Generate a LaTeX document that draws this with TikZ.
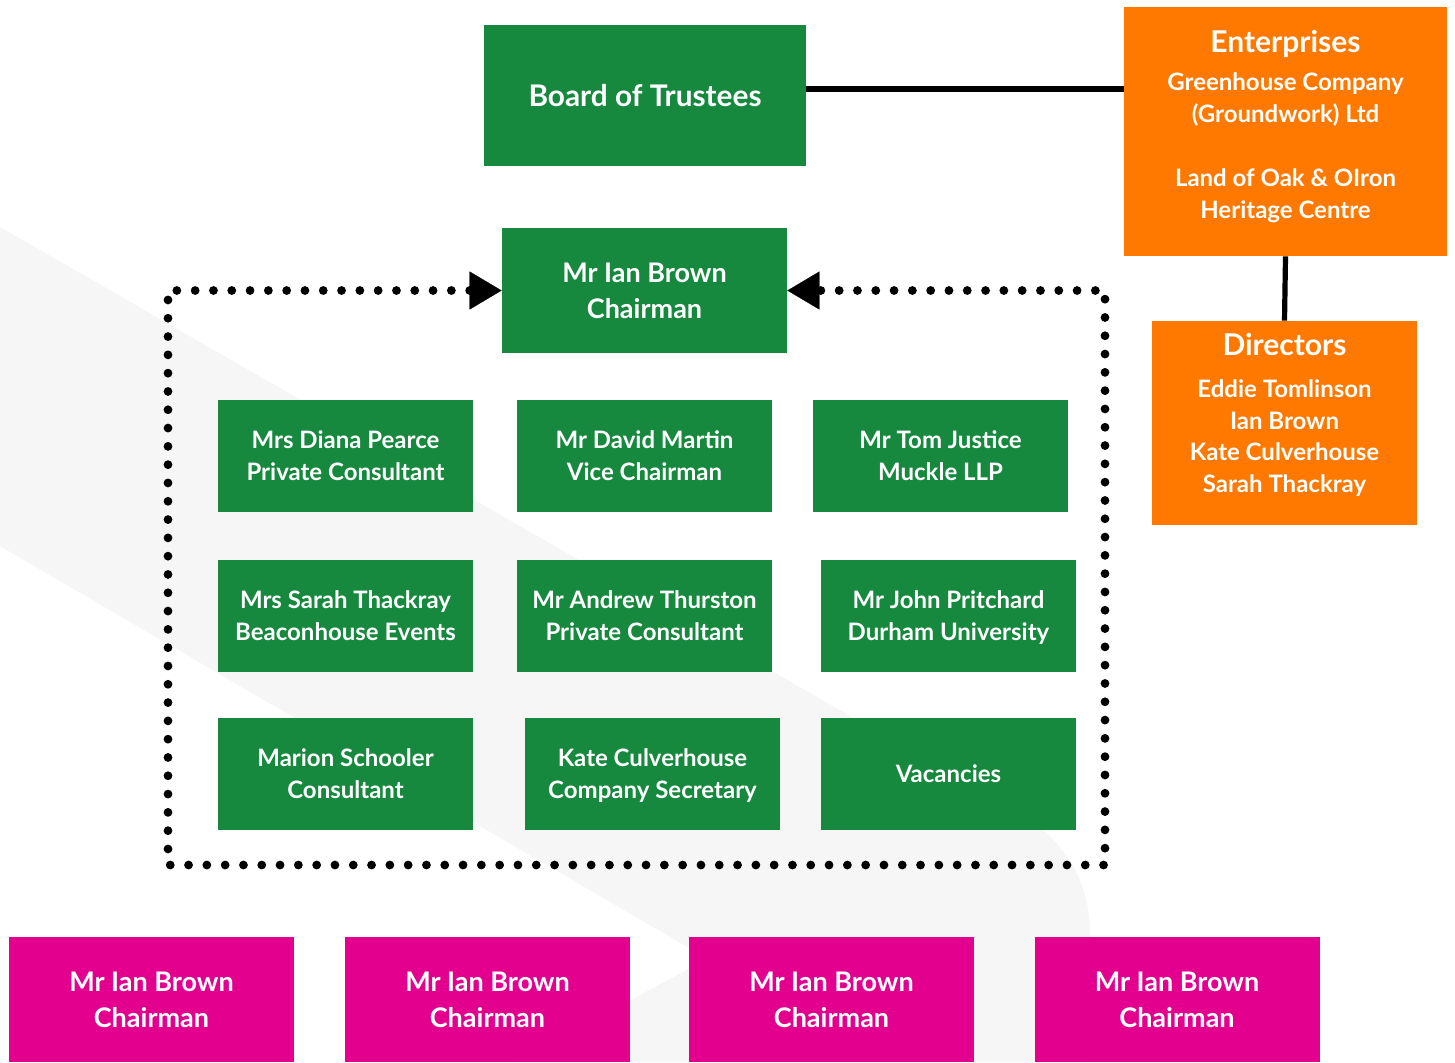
\documentclass[tikz,border=0pt]{standalone}
\usepackage{fontspec}
\setmainfont{Lato}
\usetikzlibrary{arrows.meta}
\definecolor{tgreen}{RGB}{22,137,62}
\definecolor{torange}{RGB}{255,121,0}
\definecolor{tpink}{RGB}{227,0,143}
\definecolor{tgrey}{RGB}{246,246,246}
\tikzset{framearrow/.tip={Triangle[length=16pt, width=19pt, line width=0.1pt]}}
\begin{document}
\begin{tikzpicture}[x=0.5pt,y=-0.5pt,
  box/.style={rectangle, inner sep=0pt, align=center, text=white,
    font=\bfseries\fontsize{12}{16}\selectfont},
  sbox/.style={box, text depth=0pt},
  gbox/.style={sbox, fill=tgreen, minimum width=127.5pt, minimum height=56pt},
  bigbox/.style={sbox, minimum width=142.5pt, minimum height=62.5pt,
    font=\bfseries\fontsize{13.5}{18}\selectfont},
  pbox/.style={bigbox, fill=tpink},
  conn/.style={draw=black, line width=2.6pt},
  dotline/.style={draw=black, line width=4.4pt, line cap=round,
    dash pattern=on 0pt off 9.15pt}
]
\useasboundingbox (0,0) rectangle (1455,1062);
\fill[white] (0,0) rectangle (1455,1062);
% background band
\fill[tgrey] (0,227) -- (857,720) .. controls (1000,795) and (1090,830) .. (1090,935)
  -- (1090,1062) -- (513,1062) -- (708,959) -- (0,546) -- cycle;

% top
\node[box, fill=tgreen, minimum width=161pt, minimum height=70.5pt,
  font=\bfseries\fontsize{14.9}{18}\selectfont] (board) at (645,95.5) {Board of Trustees};
\node[box, fill=torange, minimum width=161.5pt, minimum height=124.5pt] (ent) at (1285.5,131.5) {};
\node[box] (entT) at (1285.5,126.5) {{\fontsize{15}{16}\selectfont Enterprises}\\[3pt]
  Greenhouse Company\\ (Groundwork) Ltd\\[16pt] Land of Oak \& OIron\\ Heritage Centre};
\node[box, fill=torange, minimum width=132.5pt, minimum height=102pt] (dir) at (1284.5,423) {};
\node[box, font=\bfseries\fontsize{12}{15.75}\selectfont] (dirT) at (1284.5,414.5)
  {{\fontsize{15}{16}\selectfont Directors}\\[5.5pt]
  Eddie Tomlinson\\ Ian Brown\\ Kate Culverhouse\\ Sarah Thackray};

\draw[conn] ([yshift=3.25pt]board.east) -- ([yshift=3.25pt]board.east -| ent.west);
\draw[conn] (ent.south) -- (dir.north);

% chairman and members
\node[bigbox, fill=tgreen] (chair) at (644.5,290.5) {Mr Ian Brown\\ Chairman};

\node[gbox] (m11) at (345.5,456) {Mrs Diana Pearce\\ Private Consultant};
\node[gbox] (m12) at (644.5,456) {Mr David Martin\\ Vice Chairman};
\node[gbox] (m13) at (940.5,456) {Mr Tom Justice\\ Muckle LLP};
\node[gbox] (m21) at (345.5,616) {Mrs Sarah Thackray\\ Beaconhouse Events};
\node[gbox] (m22) at (644.5,616) {Mr Andrew Thurston\\ Private Consultant};
\node[gbox] (m23) at (948.5,616) {Mr John Pritchard\\ Durham University};
\node[gbox] (m31) at (345.5,774) {Marion Schooler\\ Consultant};
\node[gbox] (m32) at (652.5,774) {Kate Culverhouse\\ Company Secretary};
\node[gbox] (m33) at (948.5,774) {Vacancies};

\coordinate (fBL) at (168,865);
\coordinate (fBR) at (1105,865);
\draw[dotline, {framearrow}-{framearrow}] (chair.west) -| (fBL) -- (fBR) |- (chair.east);

% bottom row
\node[pbox] (p1) at (151.5,999.5) {Mr Ian Brown\\ Chairman};
\node[pbox] (p2) at (487.5,999.5) {Mr Ian Brown\\ Chairman};
\node[pbox] (p3) at (831.5,999.5) {Mr Ian Brown\\ Chairman};
\node[pbox] (p4) at (1177,999.5) {Mr Ian Brown\\ Chairman};
\end{tikzpicture}
\end{document}
